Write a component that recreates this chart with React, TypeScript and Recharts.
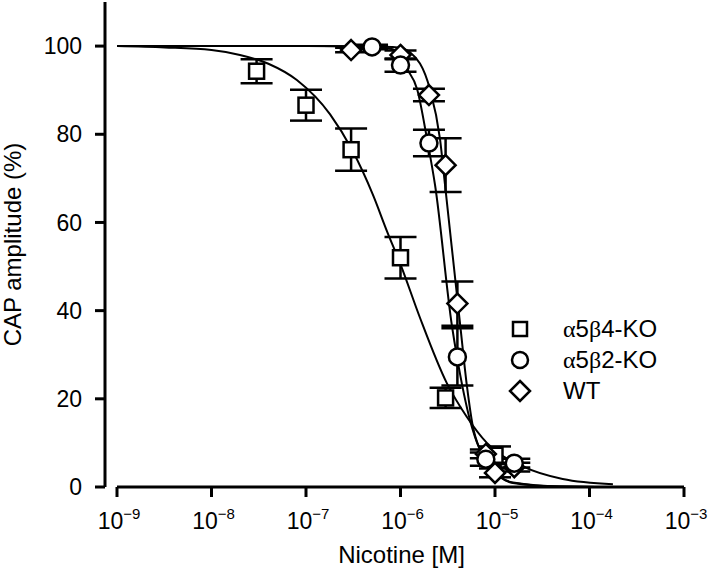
import React from 'react'
import {
  ComposedChart,
  Line,
  Scatter,
  ErrorBar,
  XAxis,
  YAxis,
  ReferenceLine,
} from 'recharts'

// x tick positions (M) and y ticks (%)
const xTicks = [1e-9, 1e-8, 1e-7, 1e-6, 1e-5, 1e-4, 1e-3]
const yTicks = [0, 20, 40, 60, 80, 100]

// measured points: concentration, amplitude, SEM
const b4Conc = [3e-8, 1e-7, 3e-7, 1e-6, 3e-6, 1e-5]
const b4Amp = [94.3, 86.6, 76.5, 52, 20.2, 7.2]
const b4Err = [2.7, 3.5, 4.8, 4.7, 2.3, 2]

const b2Conc = [5e-7, 1e-6, 2e-6, 4e-6, 8e-6, 1.6e-5]
const b2Amp = [99.8, 95.7, 78, 29.5, 6.3, 5.4]
const b2Err = [0.5, 1.5, 3, 6.5, 1.5, 1]

const wtConc = [3e-7, 1e-6, 2e-6, 3e-6, 4e-6, 8e-6, 1e-5, 1.6e-5]
const wtAmp = [99.1, 98, 88.9, 73, 41.6, 7.5, 3.2, 4.5]
const wtErr = [0.5, 1, 1.4, 6.1, 5, 1, 1, 1]

// fitted curves
const b4FitConc = [1e-9, 3.2e-9, 1e-8, 2e-8, 4e-8, 8e-8, 1.8e-7, 3.1e-7, 5.1e-7, 7.2e-7, 1e-6, 1.6e-6, 3.1e-6, 5e-6, 8.2e-6, 2e-5, 5.2e-5, 1.77e-4]
const b4FitAmp = [100, 99.7, 99.1, 98, 96, 92.3, 84.5, 76.3, 66.3, 58, 50.5, 38.5, 23.5, 16, 10, 4.6, 1.8, 0.6]

const b2FitConc = [1e-9, 1e-7, 4.8e-7, 8.3e-7, 1.17e-6, 1.5e-6, 1.91e-6, 2.32e-6, 3.51e-6, 3.96e-6, 5.43e-6, 6.93e-6, 9.5e-6, 1.55e-5, 4.9e-5, 1.77e-4]
const b2FitAmp = [100, 100, 99.9, 99.3, 94.8, 90.2, 78.9, 68.5, 36.4, 29.5, 15.2, 8.4, 3.9, 1, 0.1, 0]

const wtFitConc = [1e-9, 1e-7, 5e-7, 9.4e-7, 1.26e-6, 2.05e-6, 2.62e-6, 2.96e-6, 4.27e-6, 5.06e-6, 5.85e-6, 8.2e-6, 1.13e-5, 1.55e-5, 4.9e-5, 1.77e-4]
const wtFitAmp = [100, 100, 99.9, 99.7, 98.6, 90.2, 78.9, 68.5, 37, 22.7, 13.6, 6.1, 2.3, 0.9, 0.1, 0]

const FONT = '"Liberation Sans", Arial, Helvetica, sans-serif'
const SERIF = '"Liberation Serif", "Times New Roman", serif'

const toPoints = (xs: number[], ys: number[], es?: number[]) =>
  xs.map((x, i) => ({ x, y: ys[i], err: es ? es[i] : 0 }))

const b4Data = toPoints(b4Conc, b4Amp, b4Err)
const b2Data = toPoints(b2Conc, b2Amp, b2Err)
const wtData = toPoints(wtConc, wtAmp, wtErr)
const b4Fit = toPoints(b4FitConc, b4FitAmp)
const b2Fit = toPoints(b2FitConc, b2FitAmp)
const wtFit = toPoints(wtFitConc, wtFitAmp)

const SquareMark = ({ cx, cy }: any) => (
  <rect x={cx - 7.5} y={cy - 7.5} width={15} height={15} fill="#fff" stroke="#000" strokeWidth={2.5} />
)
const CircleMark = ({ cx, cy }: any) => (
  <circle cx={cx} cy={cy} r={8.5} fill="#fff" stroke="#000" strokeWidth={2.5} />
)
const DiamondMark = ({ cx, cy }: any) => (
  <polygon
    points={`${cx},${cy - 10} ${cx + 10},${cy} ${cx},${cy + 10} ${cx - 10},${cy}`}
    fill="#fff"
    stroke="#000"
    strokeWidth={2.5}
  />
)

const PowerTick = ({ x, y, payload }: any) => {
  const exp = Math.round(Math.log10(payload.value))
  return (
    <text x={x + 2} y={y + 32} textAnchor="middle" fontFamily={FONT} fontSize={23} fill="#000">
      <tspan>10</tspan>
      <tspan fontSize={15} dy={-10}>{'\u2212' + Math.abs(exp)}</tspan>
    </text>
  )
}

const legendRows = [
  { mark: 'square', label: ['α', '5', 'β', '4-KO'] },
  { mark: 'circle', label: ['α', '5', 'β', '2-KO'] },
  { mark: 'diamond', label: ['', 'WT', '', ''] },
]

const LegendIcon = ({ mark }: { mark: string }) => (
  <svg width={24} height={24} style={{ display: 'block' }}>
    {mark === 'square' && <rect x={5} y={5} width={14} height={14} fill="#fff" stroke="#000" strokeWidth={2.5} />}
    {mark === 'circle' && <circle cx={12} cy={12} r={8} fill="#fff" stroke="#000" strokeWidth={2.5} />}
    {mark === 'diamond' && <polygon points="12,2 22,12 12,22 2,12" fill="#fff" stroke="#000" strokeWidth={2.5} />}
  </svg>
)

const KeyBox = () => (
  <div style={{ position: 'absolute', left: 508, top: 313, fontFamily: FONT, fontSize: 24, color: '#000' }}>
    {legendRows.map((r) => (
      <div key={r.mark} style={{ display: 'flex', alignItems: 'center', height: 31 }}>
        <LegendIcon mark={r.mark} />
        <span style={{ marginLeft: 31, lineHeight: '31px', whiteSpace: 'nowrap' }}>
          <span style={{ fontFamily: SERIF }}>{r.label[0]}</span>
          {r.label[1]}
          <span style={{ fontFamily: SERIF }}>{r.label[2]}</span>
          {r.label[3]}
        </span>
      </div>
    ))}
  </div>
)

export default function App() {
  return (
    <div style={{ position: 'absolute', left: 0, top: 0, width: 709, height: 569, background: '#fff' }}>
      <ComposedChart width={709} height={569} margin={{ top: 2, right: 25, bottom: 0, left: 0 }}>
        <XAxis
          dataKey="x"
          type="number"
          scale="log"
          domain={[1e-9, 1e-3]}
          ticks={xTicks}
          allowDataOverflow
          padding={{ left: 12, right: 0 }}
          height={82}
          axisLine={false}
          tickLine={{ stroke: '#000', strokeWidth: 3 }}
          tickSize={10}
          tickMargin={0}
          tick={<PowerTick />}
          label={(p: any) => {
            const vb = p.viewBox
            return (
              <text x={vb.x + vb.width / 2 + 7} y={vb.y + 76} textAnchor="middle" fontFamily={FONT} fontSize={24} fill="#000">
                Nicotine [M]
              </text>
            )
          }}
        />
        <YAxis
          dataKey="y"
          type="number"
          domain={[0, 110]}
          ticks={yTicks}
          width={105}
          axisLine={{ stroke: '#000', strokeWidth: 3 }}
          tickLine={{ stroke: '#000', strokeWidth: 3 }}
          tickSize={10}
          tickMargin={13}
          tick={{ fill: '#000', fontSize: 23, fontFamily: FONT }}
          label={(p: any) => {
            const vb = p.viewBox
            const cy = vb.y + vb.height / 2
            return (
              <text
                x={21}
                y={cy}
                transform={`rotate(-90 21 ${cy})`}
                textAnchor="middle"
                fontFamily={FONT}
                fontSize={24}
                fill="#000"
              >
                CAP amplitude (%)
              </text>
            )
          }}
        />
        <ReferenceLine
          segment={[{ x: 1e-9, y: 0 }, { x: 1e-3, y: 0 }]}
          stroke="#000"
          strokeWidth={3}
          ifOverflow="visible"
        />
        <Line data={b4Fit} dataKey="y" type="monotone" stroke="#000" strokeWidth={2} dot={false} isAnimationActive={false} />
        <Line data={b2Fit} dataKey="y" type="monotone" stroke="#000" strokeWidth={2} dot={false} isAnimationActive={false} />
        <Line data={wtFit} dataKey="y" type="monotone" stroke="#000" strokeWidth={2} dot={false} isAnimationActive={false} />
        <Scatter data={b4Data} dataKey="y" shape={<SquareMark />} isAnimationActive={false}>
          <ErrorBar dataKey="err" direction="y" width={16} stroke="#000" strokeWidth={2.5} />
        </Scatter>
        <Scatter data={wtData} dataKey="y" shape={<DiamondMark />} isAnimationActive={false}>
          <ErrorBar dataKey="err" direction="y" width={16} stroke="#000" strokeWidth={2.5} />
        </Scatter>
        <Scatter data={b2Data} dataKey="y" shape={<CircleMark />} isAnimationActive={false}>
          <ErrorBar dataKey="err" direction="y" width={16} stroke="#000" strokeWidth={2.5} />
        </Scatter>
      </ComposedChart>
      <KeyBox />
    </div>
  )
}
